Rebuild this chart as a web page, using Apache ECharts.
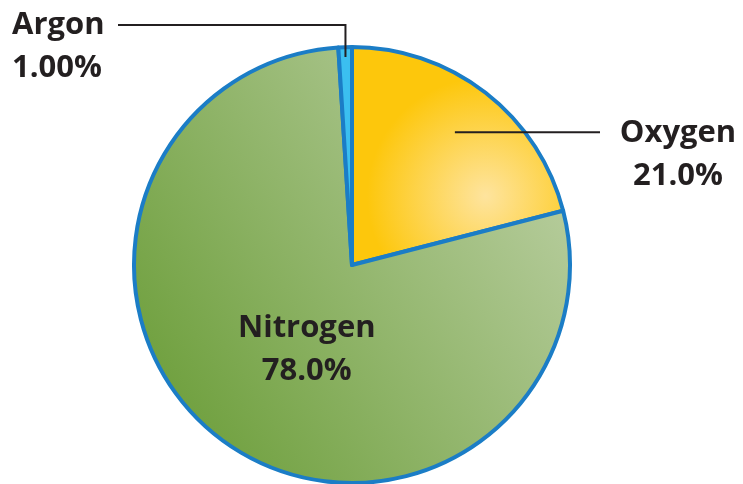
<!DOCTYPE html>
<html>
<head>
<meta charset="utf-8">
<script src="https://cdn.jsdelivr.net/npm/echarts@6/dist/echarts.min.js"></script>
<style>
  html, body { margin: 0; padding: 0; background: #fff; }
  #chart { width: 743px; height: 484px; }
</style>
</head>
<body>
<div id="chart"></div>
<script>
// 空气成分 (percent)
const gases = ['Oxygen', 'Nitrogen', 'Argon'];
const shares = [21.0, 78.0, 1.00];
const shareLabels = ['21.0%', '78.0%', '1.00%'];

const cx = 352, cy = 265, R = 218;
const font = '"Open Sans", "Noto Sans", sans-serif';

// mid angle (radians, clockwise from 12 o'clock) of each slice
function midAngle(i) {
    const total = shares.reduce((a, b) => a + b, 0);
    let before = 0;
    for (let k = 0; k < i; k++) before += shares[k];
    return (before + shares[i] / 2) / total * Math.PI * 2;
}
function polar(a, r) {
    return [cx + r * Math.sin(a), cy - r * Math.cos(a)];
}

const fills = [
    new echarts.graphic.RadialGradient(0.63, 0.68, 0.55, [
        { offset: 0, color: '#fee49e' },
        { offset: 1, color: '#fdc70c' }
    ]),
    new echarts.graphic.LinearGradient(0, 1, 1, 0.35, [
        { offset: 0, color: '#64992f' },
        { offset: 1, color: '#b6cc9c' }
    ]),
    '#3bbff0'
];

const myChart = echarts.init(document.getElementById('chart'));

const base = {
    type: 'pie',
    center: [cx, cy],
    radius: R,
    startAngle: 90,
    clockwise: true,
    avoidLabelOverlap: false,
    emphasis: { disabled: true }
};

const option = {
    animation: false,
    series: [
        // slices
        Object.assign({}, base, {
            z: 2,
            itemStyle: { borderColor: '#1b7dc6', borderWidth: 4 },
            label: { show: false },
            labelLine: { show: false },
            data: gases.map((g, i) => ({ name: g, value: shares[i], itemStyle: { color: fills[i] } }))
        }),
        // labels + leader lines drawn above the slices
        Object.assign({}, base, {
            z: 3,
            silent: true,
            itemStyle: { color: 'rgba(0,0,0,0)', borderWidth: 0 },
            label: {
                color: '#231f20',
                fontFamily: font,
                fontWeight: 'bold',
                fontSize: 31,
                lineHeight: 43,
                formatter: p => p.name + '\n' + shareLabels[p.dataIndex]
            },
            labelLine: {
                show: true,
                lineStyle: { color: '#231f20', width: 2 }
            },
            data: gases.map((g, i) => ({
                name: g,
                value: shares[i],
                label: { position: g === 'Nitrogen' ? 'inside' : 'outside', align: g === 'Argon' ? 'left' : 'center' },
                labelLine: { show: g !== 'Nitrogen' }
            })),
            labelLayout: function (params) {
                const i = params.dataIndex;
                const a = midAngle(i);
                if (gases[i] === 'Argon') {
                    const p0 = polar(a, R - 10);
                    return {
                        x: 12, y: 25 - 21, align: 'left', verticalAlign: 'top',
                        labelLinePoints: [p0, [p0[0], 25], [118, 25]]
                    };
                }
                if (gases[i] === 'Oxygen') {
                    const p0 = polar(a, R * 0.77);
                    return {
                        x: 678, y: p0[1] - 21, align: 'center', verticalAlign: 'top',
                        labelLinePoints: [p0, [600, p0[1]]]
                    };
                }
                const p = polar(a, R * 0.47);
                return { x: p[0] + 15, y: p[1] + 2, align: 'center', verticalAlign: 'middle' };
            }
        })
    ]
};

myChart.setOption(option);
</script>
</body>
</html>
